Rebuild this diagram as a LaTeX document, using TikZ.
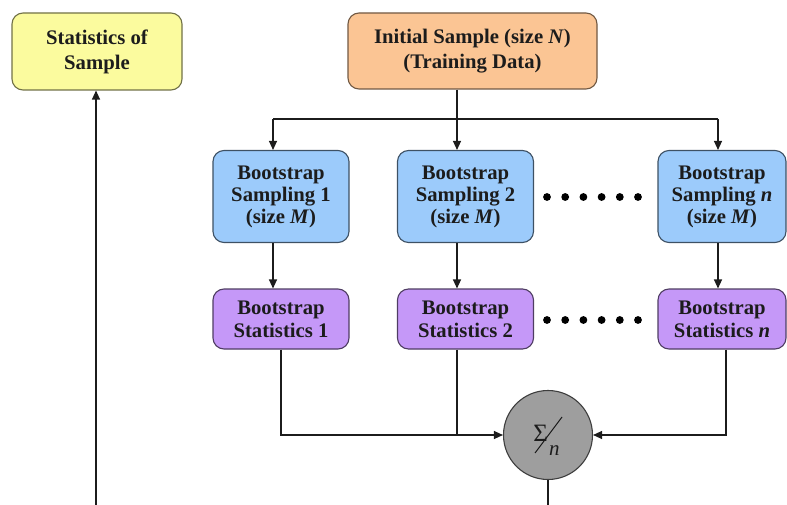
\documentclass[tikz,border=0pt]{standalone}
\usepackage{fontspec}
\setmainfont{Liberation Serif}
\usetikzlibrary{arrows.meta}

\definecolor{yelfill}{HTML}{FBFB9E}
\definecolor{orafill}{HTML}{FBC594}
\definecolor{blufill}{HTML}{9CCBFB}
\definecolor{purfill}{HTML}{C598F8}
\definecolor{sumfill}{HTML}{9E9E9E}
\definecolor{ink}{HTML}{1C1C1C}

\tikzset{
  box/.style={rounded corners=11pt, line width=1.1pt, align=center,
    font=\fontsize{20.7}{22}\selectfont\bfseries, text=ink, inner sep=0pt},
  yelbox/.style={box, fill=yelfill, draw=yelfill!45!black,
    font=\fontsize{20.7}{25}\selectfont\bfseries,
    minimum width=170pt, minimum height=77pt},
  orabox/.style={box, fill=orafill, draw=orafill!45!black,
    font=\fontsize{20.7}{25}\selectfont\bfseries,
    minimum width=249pt, minimum height=76pt},
  blubox/.style={box, fill=blufill, draw=blufill!40!black,
    minimum width=136pt, minimum height=92pt},
  purbox/.style={box, fill=purfill, draw=purfill!40!black,
    font=\fontsize{20.7}{23}\selectfont\bfseries,
    minimum width=136pt, minimum height=60pt},
  sumnode/.style={circle, fill=sumfill, draw=ink!85, line width=1.1pt,
    minimum size=89pt, inner sep=0pt, text=ink,
    font=\fontsize{21}{22}\selectfont},
  wire/.style={draw=ink, line width=1.2pt},
  arr/.style={wire, -{Triangle[length=9pt,width=8pt]}},
  dot/.style={fill=black}
}

\begin{document}
\begin{tikzpicture}[x=1pt, y=-1pt]
\useasboundingbox (0,0) rectangle (787,505);
\clip (0,0) rectangle (787,505);

% boxes
\node[yelbox] (stat) at (97,51.5) {Statistics of\\Sample};
\node[orabox] (init) at (472.5,51) {Initial Sample (size \textit{N})\\(Training Data)};

\node[blubox] (b1) at (281,196.5) {Bootstrap\\Sampling 1\\(size \textit{M})};
\node[blubox] (b2) at (465.5,196.5) {Bootstrap\\Sampling 2\\(size \textit{M})};
\node[blubox, minimum width=128pt] (bn) at (722,196.5) {Bootstrap\\Sampling \textit{n}\\(size \textit{M})};

\node[purbox] (p1) at (281,319) {Bootstrap\\Statistics 1};
\node[purbox] (p2) at (465.5,319) {Bootstrap\\Statistics 2};
\node[purbox, minimum width=128pt] (pn) at (722,319) {Bootstrap\\Statistics \textit{n}};

% averaging node: sum over n, with a long fraction slash
\node[sumnode,
  path picture={\draw[ink, line width=1pt]
    (path picture bounding box.center) ++(14,-18) -- ++(-27,36);}]
  (sum) at (548,435)
  {\smash{\hspace*{-3pt}\raisebox{-6pt}{\fontsize{25}{25}\selectfont Σ}\hspace{1pt}\raisebox{-20pt}{\textit{n}}}};

% ellipsis dots between columns
\foreach \i in {0,...,5} {
  \fill[dot] (547+18.2*\i,197) circle (3.9pt);
  \fill[dot] (547+18.2*\i,320) circle (3.9pt);
}

% junction points of the wiring
\coordinate (jt) at (457,119);
\coordinate (jl) at (273,119);
\coordinate (jr) at (718,119);
\coordinate (jb) at (726,436);
\coordinate (bot) at (548,505);
\coordinate (lb) at (96,505);

% distribution of the initial sample
\draw[wire] (init.south -| jt) -- (jt);
\draw[wire] (jl) -- (jr);
\draw[arr] (jl) -- (b1.north -| jl);
\draw[arr] (jt) -- (b2.north -| jt);
\draw[arr] (jr) -- (bn.north -| jr);

% sampling to statistics
\draw[arr] (b1.south -| jl) -- (p1.north -| jl);
\draw[arr] (b2.south -| jt) -- (p2.north -| jt);
\draw[arr] (bn.south -| jr) -- (pn.north -| jr);

% statistics into the average
\draw[arr] (p1.south) |- (sum.west);
\draw[wire] (p2.south -| jt) -- (jt |- sum.west);
\draw[arr] (pn.south -| jb) |- (sum.east);

% outputs
\draw[wire] (sum.south) -- (bot);
\draw[arr] (lb) -- (stat.south -| lb);
\end{tikzpicture}
\end{document}
